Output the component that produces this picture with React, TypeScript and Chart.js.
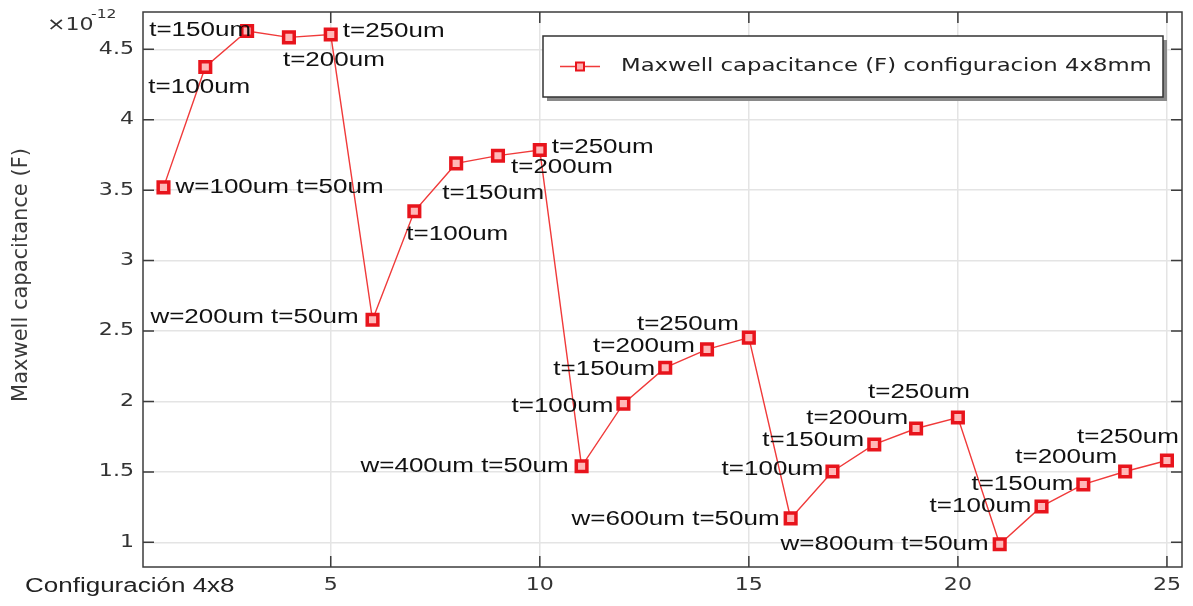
import React, { useEffect, useRef } from 'react';
import { Chart, registerables } from 'chart.js';

Chart.register(...registerables);

// ---------- data ----------
const configIndex = [1, 2, 3, 4, 5, 6, 7, 8, 9, 10, 11, 12, 13, 14, 15, 16, 17, 18, 19, 20, 21, 22, 23, 24, 25];
// Maxwell capacitance in units of 1e-12 F
const capacitance = [
  3.52, 4.375, 4.63, 4.585, 4.605,
  2.58, 3.35, 3.69, 3.745, 3.785,
  1.54, 1.985, 2.24, 2.37, 2.453,
  1.17, 1.503, 1.695, 1.808, 1.886,
  0.986, 1.255, 1.411, 1.503, 1.581,
];
const pointLabels = [
  'w=100um t=50um', 't=100um', 't=150um', 't=200um', 't=250um',
  'w=200um t=50um', 't=100um', 't=150um', 't=200um', 't=250um',
  'w=400um t=50um', 't=100um', 't=150um', 't=200um', 't=250um',
  'w=600um t=50um', 't=100um', 't=150um', 't=200um', 't=250um',
  'w=800um t=50um', 't=100um', 't=150um', 't=200um', 't=250um',
];
const xTicks = [5, 10, 15, 20, 25];
const yTicks = [1, 1.5, 2, 2.5, 3, 3.5, 4, 4.5];
const seriesName = 'Maxwell capacitance (F) configuracion 4x8mm';
const yAxisTitle = 'Maxwell capacitance (F)';
const xAxisTitle = 'Configuración 4x8';
const yExponent = '-12';

// ---------- label placement (style) ----------
type Place = [CanvasTextAlign, number, number];
const labelPlacement: Place[] = [
  ['left', 12, 0], ['center', -6, 21], ['right', 4, -1], ['left', -6, 23], ['left', 12, -3],
  ['right', -14, -2], ['left', -8, 23], ['left', -14, 30], ['left', 13, 12], ['left', 12, -3],
  ['right', -13, 0], ['right', -10, 3], ['right', -10, 2], ['right', -12, -3], ['right', -10, -13],
  ['right', -11, 1], ['right', -9, -2], ['right', -10, -4], ['right', -8, -10], ['right', 12, -25],
  ['right', -11, 0], ['right', -10, 0], ['right', -10, 0], ['right', -8, -14], ['right', 12, -23],
];

const SX = 1.3; // horizontal text stretch seen in the reference
const RED = '#e8141c';
const TICK = 11;

function drawText(
  ctx: CanvasRenderingContext2D, text: string, x: number, y: number,
  align: CanvasTextAlign, font: string, color: string, sx = SX,
) {
  ctx.save();
  ctx.translate(x, y);
  ctx.scale(sx, 1);
  ctx.font = font;
  ctx.fillStyle = color;
  ctx.textAlign = align;
  ctx.textBaseline = 'middle';
  ctx.fillText(text, 0, 0);
  ctx.restore();
}

const framePlugin = {
  id: 'frameTicks',
  beforeDatasetsDraw(chart: any) {
    const { ctx, chartArea: a, scales } = chart;
    const xs = scales.x;
    const ys = scales.y;
    ctx.save();
    ctx.strokeStyle = '#3c3c3c';
    ctx.lineWidth = 1.5;
    ctx.strokeRect(a.left, a.top, a.right - a.left, a.bottom - a.top);
    ctx.beginPath();
    xs.ticks.forEach((t: any) => {
      const px = xs.getPixelForValue(t.value);
      ctx.moveTo(px, a.bottom); ctx.lineTo(px, a.bottom - TICK);
      ctx.moveTo(px, a.top); ctx.lineTo(px, a.top + TICK);
    });
    ys.ticks.forEach((t: any) => {
      const py = ys.getPixelForValue(t.value);
      ctx.moveTo(a.left, py); ctx.lineTo(a.left + TICK, py);
      ctx.moveTo(a.right, py); ctx.lineTo(a.right - TICK, py);
    });
    ctx.stroke();
    ctx.restore();

    // tick labels
    const tickFont = '17px "DejaVu Sans"';
    xs.ticks.forEach((t: any) => {
      drawText(ctx, String(t.value), xs.getPixelForValue(t.value), a.bottom + 19, 'center', tickFont, '#333');
    });
    ys.ticks.forEach((t: any) => {
      drawText(ctx, String(t.value), a.left - 9, ys.getPixelForValue(t.value), 'right', tickFont, '#333');
    });
    // exponent
    drawText(ctx, '×10', 47, 26, 'left', '17px "DejaVu Sans"', '#333');
    drawText(ctx, yExponent, 91, 15, 'left', '12px "DejaVu Sans"', '#333');
    // x axis title (bottom-left)
    drawText(ctx, xAxisTitle, 25, a.bottom + 19, 'left', '20px "Liberation Sans"', '#222');
    // y axis title (rotated)
    ctx.save();
    ctx.translate(22, 275);
    ctx.rotate(-Math.PI / 2);
    ctx.font = '21px "DejaVu Sans"';
    ctx.fillStyle = '#3a3a3a';
    ctx.textAlign = 'center';
    ctx.textBaseline = 'middle';
    ctx.fillText(yAxisTitle, 0, 0);
    ctx.restore();
  },
  afterDatasetsDraw(chart: any) {
    const { ctx } = chart;
    const meta = chart.getDatasetMeta(0);
    meta.data.forEach((el: any, i: number) => {
      const [align, dx, dy] = labelPlacement[i];
      drawText(ctx, pointLabels[i], el.x + dx, el.y + dy, align, '20px "Liberation Sans"', '#111');
    });

    // legend box
    const bx = 543, by = 36, bw = 620, bh = 61;
    ctx.save();
    ctx.fillStyle = '#8a8a8a';
    ctx.fillRect(bx + 4, by + 4, bw, bh);
    ctx.fillStyle = '#ffffff';
    ctx.fillRect(bx, by, bw, bh);
    ctx.strokeStyle = '#333';
    ctx.lineWidth = 1.5;
    ctx.strokeRect(bx, by, bw, bh);
    const ly = by + bh / 2;
    ctx.strokeStyle = '#f03a3a';
    ctx.lineWidth = 1.3;
    ctx.beginPath();
    ctx.moveTo(bx + 17, ly); ctx.lineTo(bx + 57, ly);
    ctx.stroke();
    ctx.fillStyle = '#ffb0b0';
    ctx.fillRect(bx + 33, ly - 4, 8, 8);
    ctx.strokeStyle = RED;
    ctx.lineWidth = 2;
    ctx.strokeRect(bx + 33, ly - 4, 8, 8);
    ctx.restore();
    drawText(ctx, seriesName, bx + 78, ly, 'left', '17.5px "DejaVu Sans"', '#222');
  },
};

export default function App() {
  const ref = useRef<HTMLCanvasElement | null>(null);
  useEffect(() => {
    if (!ref.current) return;
    const chart = new Chart(ref.current, {
      type: 'line',
      data: {
        datasets: [{
          label: seriesName,
          data: configIndex.map((x, i) => ({ x, y: capacitance[i] })),
          borderColor: '#f03a3a',
          borderWidth: 1.4,
          pointStyle: 'rect',
          pointRadius: 7.5,
          pointBorderWidth: 3.5,
          pointBorderColor: RED,
          pointBackgroundColor: '#ffb8b8',
          tension: 0,
        }],
      },
      options: {
        responsive: false,
        animation: false,
        layout: { padding: { top: 12, right: 8, left: 0, bottom: 0 } },
        plugins: { legend: { display: false }, tooltip: { enabled: false } },
        scales: {
          x: {
            type: 'linear',
            min: 0.51,
            max: 25.36,
            afterBuildTicks: (s: any) => { s.ticks = xTicks.map((v) => ({ value: v })); },
            afterFit: (s: any) => { s.height = 39; },
            ticks: { display: false },
            grid: { color: '#e4e4e4', lineWidth: 1.5, drawTicks: false },
            border: { display: false },
          },
          y: {
            type: 'linear',
            min: 0.825,
            max: 4.765,
            afterBuildTicks: (s: any) => { s.ticks = yTicks.map((v) => ({ value: v })); },
            afterFit: (s: any) => { s.width = 143; },
            ticks: { display: false },
            grid: { color: '#e4e4e4', lineWidth: 1.5, drawTicks: false },
            border: { display: false },
          },
        },
      },
      plugins: [framePlugin],
    });
    return () => chart.destroy();
  }, []);
  return (
    <div style={{ position: 'fixed', left: 0, top: 0, width: 1193, height: 606, background: '#fff' }}>
      <canvas ref={ref} width={1193} height={606} />
    </div>
  );
}
